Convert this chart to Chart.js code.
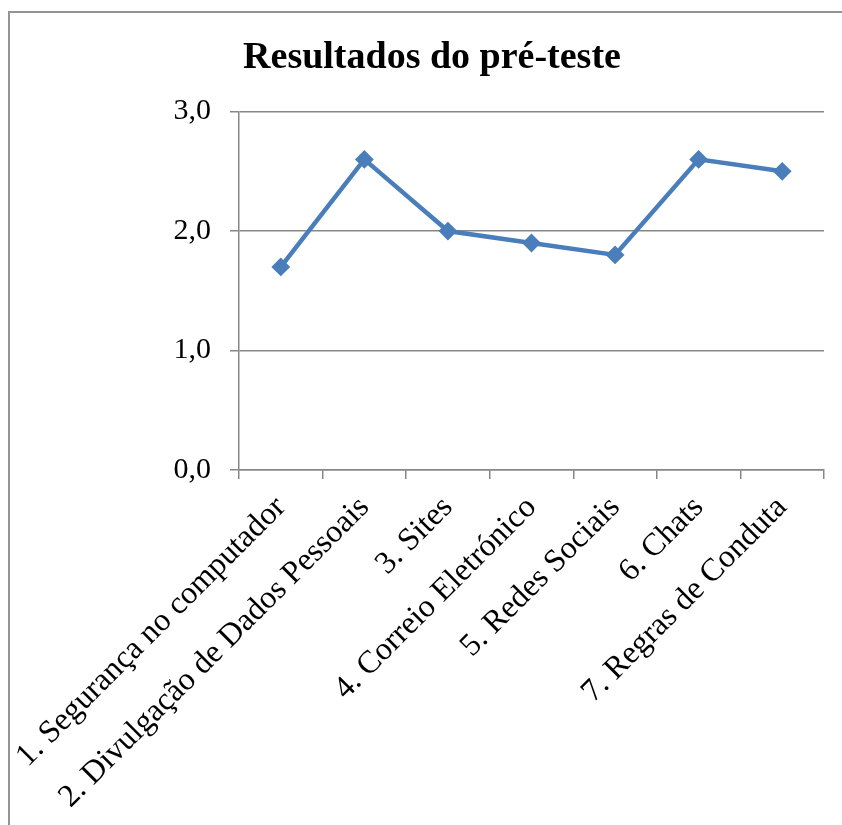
<!DOCTYPE html>
<html lang="pt">
<head>
<meta charset="utf-8">
<title>Resultados do pré-teste</title>
<script src="https://cdn.jsdelivr.net/npm/chart.js@4/dist/chart.umd.min.js"></script>
<style>
  html, body { margin: 0; padding: 0; background: #ffffff; overflow: hidden; }
  #wrap { position: relative; width: 842px; height: 825px; overflow: hidden; }
  #chart { position: absolute; left: 0; top: 0; }
  #frame {
    position: absolute; left: 8px; top: 11px; width: 1200px; height: 1200px;
    border: 2px solid #949494; pointer-events: none;
  }
</style>
</head>
<body>
<div id="wrap">
  <canvas id="chart" width="842" height="825"></canvas>
  <div id="frame"></div>
</div>
<script>
// Pre-test scores per topic
const chartTitle = 'Resultados do pré-teste';
const categories = [
  '1. Segurança no computador',
  '2. Divulgação de Dados Pessoais',
  '3. Sites',
  '4. Correio Eletrónico',
  '5. Redes Sociais',
  '6. Chats',
  '7. Regras de Conduta'
];
const scores = [1.7, 2.6, 2.0, 1.9, 1.8, 2.6, 2.5];
const yMin = 0;
const yMax = 3;
const yStep = 1;

const serif = "'Liberation Serif', 'Times New Roman', serif";
const axisGrey = '#878787';
const lineBlue = '#4a7ebb';

new Chart(document.getElementById('chart'), {
  type: 'line',
  data: {
    labels: categories,
    datasets: [{
      data: scores,
      borderColor: lineBlue,
      backgroundColor: lineBlue,
      borderWidth: 4.5,
      tension: 0,
      pointStyle: 'rectRot',
      pointRadius: 8,
      pointBorderWidth: 2,
      pointBackgroundColor: lineBlue,
      pointBorderColor: lineBlue
    }]
  },
  options: {
    responsive: false,
    animation: false,
    layout: { padding: { top: 0, left: 40, right: 18, bottom: 0 } },
    plugins: {
      legend: { display: false },
      tooltip: { enabled: false },
      title: {
        display: true,
        text: chartTitle,
        color: '#000000',
        font: { family: serif, size: 38, weight: 'bold' },
        padding: { top: 35, bottom: 31 }
      }
    },
    scales: {
      x: {
        offset: true,
        grid: {
          offset: true,
          drawOnChartArea: false,
          drawTicks: true,
          tickLength: 9,
          color: axisGrey,
          lineWidth: 1.5
        },
        border: { color: axisGrey, width: 1.5 },
        ticks: {
          minRotation: 45,
          maxRotation: 45,
          autoSkip: false,
          padding: 10,
          color: '#000000',
          font: { family: serif, size: 32 }
        },
        afterFit: (scale) => {
          // long rotated labels may run past the plot's left edge
          scale.height = 355;
          scale.paddingLeft = 0;
          scale.paddingRight = 0;
        }
      },
      y: {
        min: yMin,
        max: yMax,
        grid: {
          color: axisGrey,
          lineWidth: 1.5,
          tickLength: 9
        },
        border: { color: axisGrey, width: 1.5 },
        ticks: {
          stepSize: yStep,
          padding: 19,
          color: '#000000',
          font: { family: serif, size: 30 },
          callback: (v) => Number(v).toFixed(1).replace('.', ',')
        },
        afterFit: (scale) => { scale.width = 199; }
      }
    }
  }
});
</script>
</body>
</html>
